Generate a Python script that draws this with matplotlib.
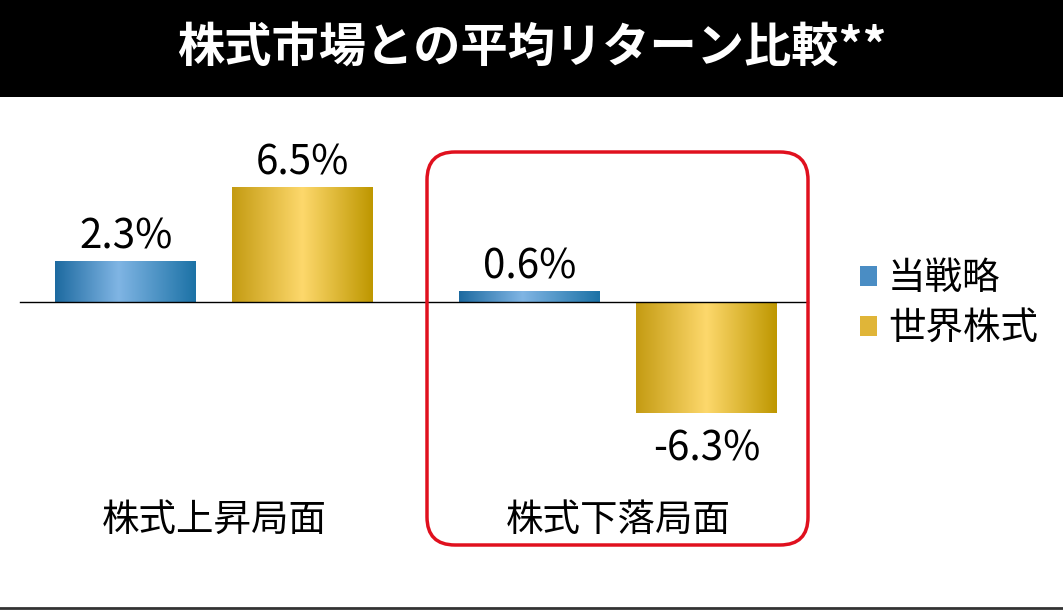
import matplotlib
matplotlib.use('Agg')
import matplotlib.pyplot as plt
import numpy as np
from matplotlib.colors import LinearSegmentedColormap
from matplotlib.patches import Rectangle, FancyBboxPatch, Patch
from matplotlib.transforms import IdentityTransform

plt.rcParams['font.family'] = ['Noto Sans CJK JP', 'DejaVu Sans']

title = '株式市場との平均リターン比較**'
categories = ['株式上昇局面', '株式下落局面']
series_names = ['当戦略', '世界株式']
strategy = [2.3, 0.6]
world = [6.5, -6.3]

blue_cmap = LinearSegmentedColormap.from_list(
    'blue', [(0, '#1d6aa0'), (0.45, '#80b5e4'), (1, '#1c72a6')])
gold_cmap = LinearSegmentedColormap.from_list(
    'gold', [(0, '#c49b12'), (0.5, '#fdd86c'), (1, '#be9700')])

W, H = 1063, 610
fig = plt.figure(figsize=(W / 100, H / 100), dpi=100)
fig.patch.set_facecolor('white')

# title bar
fig.patches.append(Rectangle((0, 1 - 97 / H), 1, 97 / H, transform=fig.transFigure,
                             facecolor='black', edgecolor='none', zorder=0))
fig.text(0.5, 1 - 48 / H, title, color='white', fontsize=34, fontweight='bold',
         ha='center', va='center')

ax = fig.add_axes([0, 0, 1, 1 - 97 / H])
x = np.arange(len(categories))
bw = 0.349
off = 0.219
grad = np.linspace(0, 1, 256).reshape(1, -1)


def gradient_bars(xs, vals, cmap):
    bars = ax.bar(xs, vals, bw, color='none', edgecolor='none')
    for b in bars:
        x0, y0, w, h = b.get_x(), b.get_y(), b.get_width(), b.get_height()
        ax.imshow(grad, cmap=cmap, aspect='auto', interpolation='bicubic',
                  extent=[x0, x0 + w, min(y0, y0 + h), max(y0, y0 + h)], zorder=2)
    for xi, v in zip(xs, vals):
        if v >= 0:
            ax.annotate(f'{v}%', (xi, v), xytext=(0, 3), textcoords='offset points',
                        ha='center', va='bottom', fontsize=29)
        else:
            ax.annotate(f'{v}%', (xi, v), xytext=(0, -11), textcoords='offset points',
                        ha='center', va='top', fontsize=29)


gradient_bars(x - off, strategy, blue_cmap)
gradient_bars(x + off, world, gold_cmap)

ax.plot([-0.48, 1.47], [0, 0], color='black', lw=1, zorder=3)

for xi, c in zip(x, categories):
    ax.text(xi, -12.4, c, ha='center', va='center', fontsize=27)

ax.set_xlim(-0.53, 2.1015)
ax.set_ylim(-17.5, 11.65)
ax.axis('off')

handles = [Patch(facecolor='#4a8dc4'), Patch(facecolor='#e0b538')]
ax.legend(handles, series_names, loc='center left', bbox_to_anchor=(826 / W, 1 - 304 / H),
          bbox_transform=fig.transFigure, frameon=False, fontsize=27,
          handlelength=0.45, handleheight=0.45, handletextpad=0.3, labelspacing=0.3)

# red highlight box around the falling-market group
fig.patches.append(FancyBboxPatch((427, H - 545), 381, 393,
                                  boxstyle='round,pad=0,rounding_size=28',
                                  transform=IdentityTransform(), fill=False,
                                  edgecolor='#e0101e', lw=2.5, zorder=5))

# bottom rule
fig.add_artist(plt.Line2D([0, 1], [2 / H, 2 / H], transform=fig.transFigure,
                          color='#333333', lw=2))

fig.savefig('out.png', dpi=100)
